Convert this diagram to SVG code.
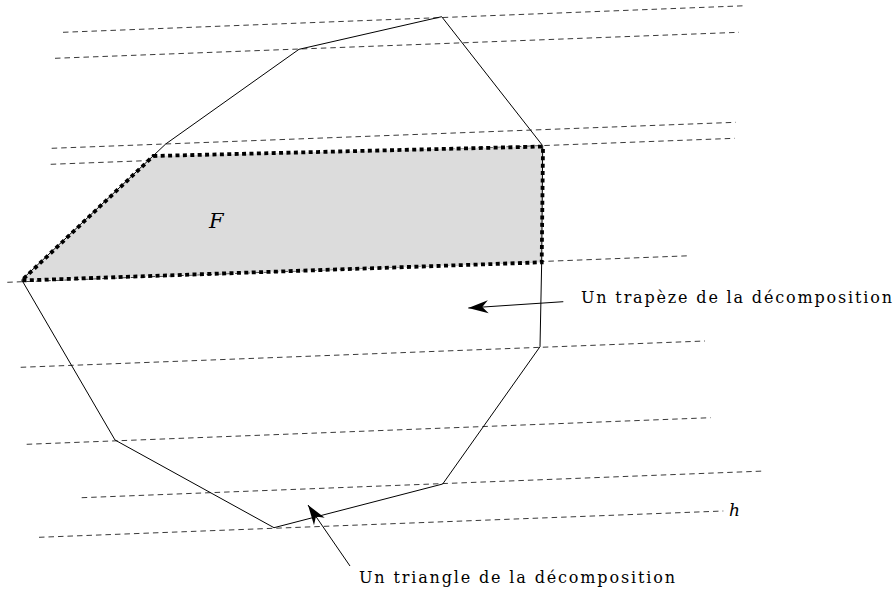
<svg xmlns="http://www.w3.org/2000/svg" width="895" height="592" viewBox="0 0 895 592">
<style>
.dash{stroke:#222;stroke-width:0.9;stroke-dasharray:5.5 4;fill:none}
.poly{stroke:#000;stroke-width:1;fill:none;stroke-linejoin:miter}
.bold{stroke:#000;stroke-width:3.8;stroke-dasharray:4 3.4;fill:none}
.arrow{stroke:#000;stroke-width:1;fill:none}
.lbl{font-family:"DejaVu Serif",serif;font-size:16px;fill:#000}
.math{font-family:"DejaVu Serif",serif;font-style:italic;fill:#000}
</style>
<defs>
<marker id="ah" markerUnits="userSpaceOnUse" markerWidth="24" markerHeight="16" viewBox="-22 -8 24 16" refX="0" refY="0" orient="auto">
<path d="M0,0 L-20,-6.5 L-14,0 L-20,6.5 Z" fill="#000"/>
</marker>
</defs>
<g id="sweep-lines">
<line class="dash" x1="63" y1="32.3" x2="746" y2="5.7"/>
<line class="dash" x1="55" y1="58.3" x2="739" y2="32.3"/>
<line class="dash" x1="51.7" y1="148.3" x2="735.7" y2="122.3"/>
<line class="dash" x1="50.7" y1="164.3" x2="734.7" y2="138.3"/>
<line class="dash" x1="7.3" y1="282.3" x2="690.7" y2="255.7"/>
<line class="dash" x1="20.7" y1="367.3" x2="705" y2="341"/>
<line class="dash" x1="26.7" y1="444.3" x2="710.7" y2="417.7"/>
<line class="dash" x1="81.7" y1="497.7" x2="765" y2="471"/>
<line class="dash" x1="39" y1="537.3" x2="723.3" y2="511"/>
</g>
<g id="face-F">
<polygon points="153.3,156 543,146.5 541.7,262.3 21.7,280.5" fill="#dcdcdc" stroke="none"/>
</g>
<g id="polygon">
<polygon class="poly" points="441.7,16.7 299,49.3 165.7,144 21.7,279.8 115,440 274,527.7 442.7,484 540,346.7 541.7,261.7 542.7,145.7"/>
</g>
<g id="face-F-border">
<polygon class="bold" points="153.3,156 543,146.5 541.7,262.3 21.7,280.5"/>
</g>
<g id="connectors">
<line class="arrow" x1="563.3" y1="301.7" x2="468.3" y2="308" marker-end="url(#ah)"/>
<line class="arrow" x1="350" y1="566" x2="308" y2="505" marker-end="url(#ah)"/>
</g>
<g id="label-F">
<text class="math" x="209" y="228" font-size="21">F</text>
</g>
<g id="label-h">
<text class="math" x="729" y="516" font-size="17">h</text>
</g>
<g id="label-trapeze">
<text class="lbl" x="581" y="303" textLength="311" lengthAdjust="spacing">Un trapèze de la décomposition</text>
</g>
<g id="label-triangle">
<text class="lbl" x="359" y="582.5" textLength="316" lengthAdjust="spacing">Un triangle de la décomposition</text>
</g>
</svg>
